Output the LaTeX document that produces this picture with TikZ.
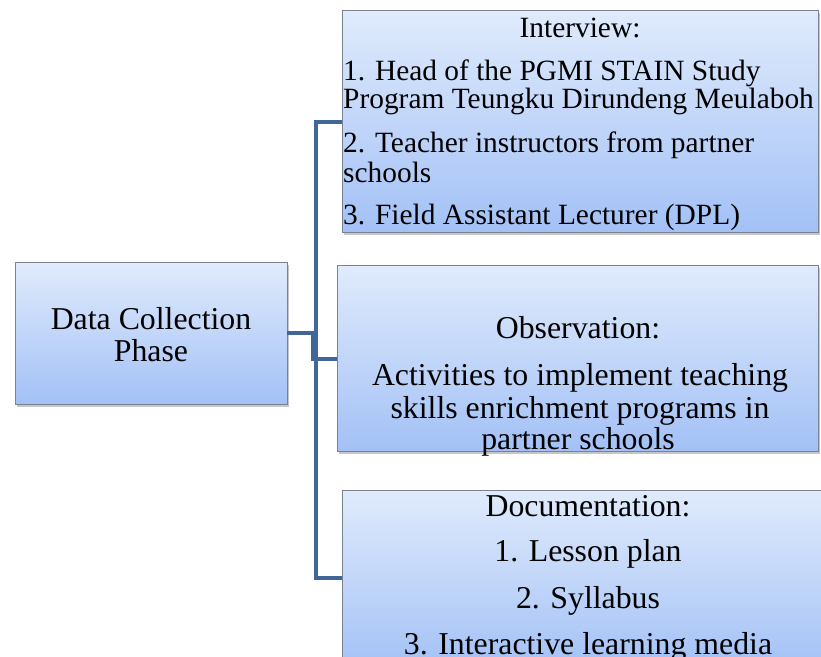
\documentclass[tikz,border=0pt]{standalone}
\usepackage{fontspec}
\setmainfont{Liberation Serif}
\usetikzlibrary{shadows}
\definecolor{linec}{HTML}{41679A}
\definecolor{topc}{HTML}{E0EBFC}
\definecolor{botc}{HTML}{A3C1F6}
\definecolor{edgec}{HTML}{7A8190}
\tikzset{
  box/.style={draw=edgec, line width=0.8pt, top color=topc, bottom color=botc,
    drop shadow={opacity=0.45, shadow xshift=2pt, shadow yshift=-3pt}},
  txt/.style={anchor=base, inner sep=0pt, font=\fontsize{31.8}{36}\selectfont},
  txtt/.style={anchor=base, inner sep=0pt, font=\fontsize{29.4}{33}\selectfont},
  txtl/.style={anchor=base west, inner sep=0pt, font=\fontsize{29.4}{33}\selectfont},
  conn/.style={draw=linec, line width=4.5pt}
}
\begin{document}
\begin{tikzpicture}[x=1pt,y=-1pt]
\useasboundingbox (0,0) rectangle (821,656);
% boxes
\path[box] (15,262) rectangle (287,404);
\coordinate (leftE) at (287,333);
\path[box] (342,10) rectangle (818,232);
\coordinate (topW) at (342,122);
\path[box] (337,265) rectangle (818,451);
\coordinate (midW) at (337,359);
\path[box] (342,490) rectangle (830,670);
\coordinate (botW) at (342,578);
% connectors
\coordinate (jtop) at (316,122);
\coordinate (jbot) at (316,578);
\coordinate (jl) at (313,333);
\coordinate (jm) at (313,359);
\draw[conn] (topW) -- (jtop) -- (jbot) -- (botW);
\draw[conn] (leftE) -- (jl) -- (jm) -- (midW);
% left text
\node[txt] (l1) at (151,329) {Data Collection};
\node[txt] (l2) at (151,361) {Phase};
% top text
\node[txtt] (t0) at (580,37) {Interview:};
\node[txtl] (t1) at (343,80) {1. Head of the PGMI STAIN Study};
\node[txtl] (t2) at (343,108) {Program Teungku Dirundeng Meulaboh};
\node[txtl] (t3) at (343,152) {2. Teacher instructors from partner};
\node[txtl] (t4) at (343,182) {schools};
\node[txtl] (t5) at (343,224) {3. Field Assistant Lecturer (DPL)};
% middle text
\node[txt] (m0) at (578,338) {Observation:};
\node[txt] (m1) at (580,385) {Activities to implement teaching};
\node[txt] (m2) at (580,418) {skills enrichment programs in};
\node[txt] (m3) at (578,449) {partner schools};
% bottom text
\node[txt] (b0) at (588,516) {Documentation:};
\node[txt] (b1) at (588,561) {1. Lesson plan};
\node[txt] (b2) at (588,608) {2. Syllabus};
\node[txt] (b3) at (588,654) {3. Interactive learning media};
\end{tikzpicture}
\end{document}
